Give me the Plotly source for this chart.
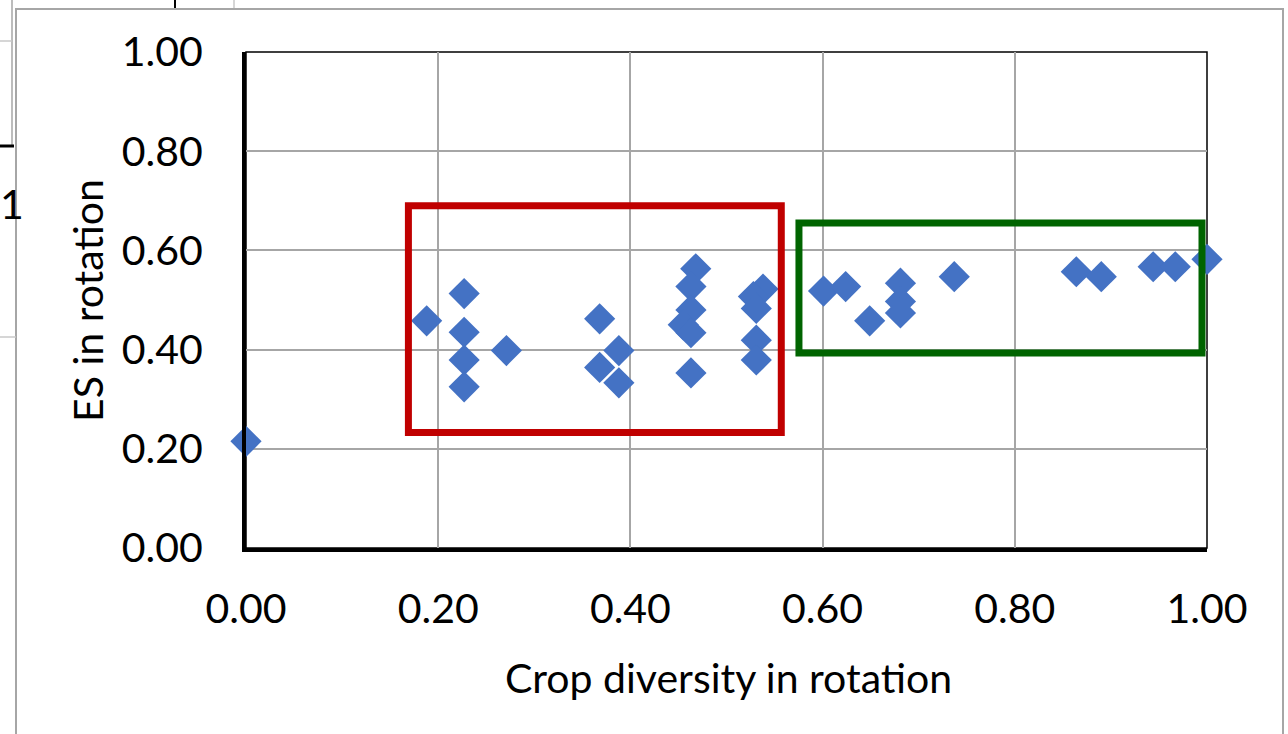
import plotly.graph_objects as go

# ---- data ----
crop_diversity = [0.00, 0.188, 0.227, 0.227, 0.227, 0.227, 0.271, 0.368, 0.368, 0.388, 0.388,
                  0.468, 0.463, 0.463, 0.455, 0.463, 0.463,
                  0.538, 0.528, 0.531, 0.531, 0.531,
                  0.601, 0.624, 0.649, 0.681, 0.681, 0.681, 0.737, 0.864, 0.890, 0.944, 0.967, 1.00]
es_rotation = [0.215, 0.458, 0.513, 0.435, 0.379, 0.325, 0.398, 0.462, 0.364, 0.398, 0.333,
               0.563, 0.527, 0.480, 0.450, 0.434, 0.353,
               0.522, 0.507, 0.483, 0.419, 0.379,
               0.518, 0.527, 0.458, 0.534, 0.497, 0.474, 0.547, 0.557, 0.547, 0.567, 0.567, 0.582]
tick_vals = [0.0, 0.2, 0.4, 0.6, 0.8, 1.0]
tick_text = ["0.00", "0.20", "0.40", "0.60", "0.80", "1.00"]

red_box = [0.169, 0.557, 0.233, 0.690]    # x0, x1, y0, y1
green_box = [0.5754, 0.9948, 0.393, 0.655]

# ---- layout geometry (pixels) ----
W, H = 1288, 734
L, R, T, B = 246, 1207, 52, 548


def px(xp):
    return (xp - L) / (R - L)


def py(yp):
    return (B - yp) / (B - T)


FONT = "Lato, Carlito, Calibri, sans-serif"
FS = 41

fig = go.Figure()
fig.add_trace(go.Scatter(
    x=crop_diversity, y=es_rotation, mode="markers",
    marker=dict(symbol="diamond", size=24, color="#4472C4", line=dict(width=0)),
    cliponaxis=False, showlegend=False,
))

shapes = []
# plot-area border (thin)
shapes.append(dict(type="rect", xref="paper", yref="paper", x0=0, x1=1, y0=0, y1=1,
                   line=dict(color="black", width=1.5), layer="below"))
# highlight boxes
shapes.append(dict(type="rect", xref="x", yref="y", x0=red_box[0], x1=red_box[1],
                   y0=red_box[2], y1=red_box[3], line=dict(color="#C00000", width=7)))
shapes.append(dict(type="rect", xref="x", yref="y", x0=green_box[0], x1=green_box[1],
                   y0=green_box[2], y1=green_box[3], line=dict(color="#006400", width=7)))

# chart-area frame (gray) and background spreadsheet fragments
gray = "#A6A6A6"
shapes.append(dict(type="path", xref="paper", yref="paper",
                   path=f"M {px(16)},{py(740)} L {px(16)},{py(9)} L {px(1283)},{py(9)} L {px(1283)},{py(740)}",
                   line=dict(color=gray, width=2)))
shapes.append(dict(type="line", xref="paper", yref="paper", x0=px(12), x1=px(12), y0=py(0), y1=py(145),
                   line=dict(color=gray, width=1.5)))
shapes.append(dict(type="line", xref="paper", yref="paper", x0=px(0), x1=px(12), y0=py(41), y1=py(41),
                   line=dict(color="#C8C8C8", width=1.5)))
shapes.append(dict(type="line", xref="paper", yref="paper", x0=px(0), x1=px(14), y0=py(146), y1=py(146),
                   line=dict(color="black", width=3)))
shapes.append(dict(type="line", xref="paper", yref="paper", x0=px(0), x1=px(16), y0=py(337), y1=py(337),
                   line=dict(color="#C8C8C8", width=1.5)))
shapes.append(dict(type="line", xref="paper", yref="paper", x0=px(175), x1=px(175), y0=py(0), y1=py(8),
                   line=dict(color="black", width=2)))
shapes.append(dict(type="line", xref="paper", yref="paper", x0=px(234), x1=px(234), y0=py(0), y1=py(8),
                   line=dict(color="#C8C8C8", width=1.5)))

annotations = [
    dict(text="Crop diversity in rotation", xref="paper", yref="paper", x=px(728), y=py(677),
         showarrow=False, xanchor="center", yanchor="middle", font=dict(family=FONT, size=FS, color="black")),
    dict(text="ES in rotation", xref="paper", yref="paper", x=px(87), y=py(301), textangle=-90,
         showarrow=False, xanchor="center", yanchor="middle", font=dict(family=FONT, size=FS, color="black")),
    dict(text="1", xref="paper", yref="paper", x=px(-2), y=py(204),
         showarrow=False, xanchor="left", yanchor="middle", font=dict(family=FONT, size=FS, color="black")),
]

axis_common = dict(
    range=[0, 1], tickvals=tick_vals, ticktext=tick_text, showgrid=True,
    gridcolor="#A6A6A6", gridwidth=1.5, zeroline=False, showline=True, linecolor="black",
    linewidth=4, ticks="", tickfont=dict(family=FONT, size=FS, color="black"), fixedrange=True,
)

fig.update_layout(
    width=W, height=H, margin=dict(l=L, r=W - R, t=T, b=H - B, pad=0),
    paper_bgcolor="white", plot_bgcolor="white",
    xaxis=dict(**axis_common, ticklabelstandoff=22),
    yaxis=dict(**axis_common, ticklabelstandoff=31),
    shapes=shapes, annotations=annotations,
)

fig.write_html("out.html")
